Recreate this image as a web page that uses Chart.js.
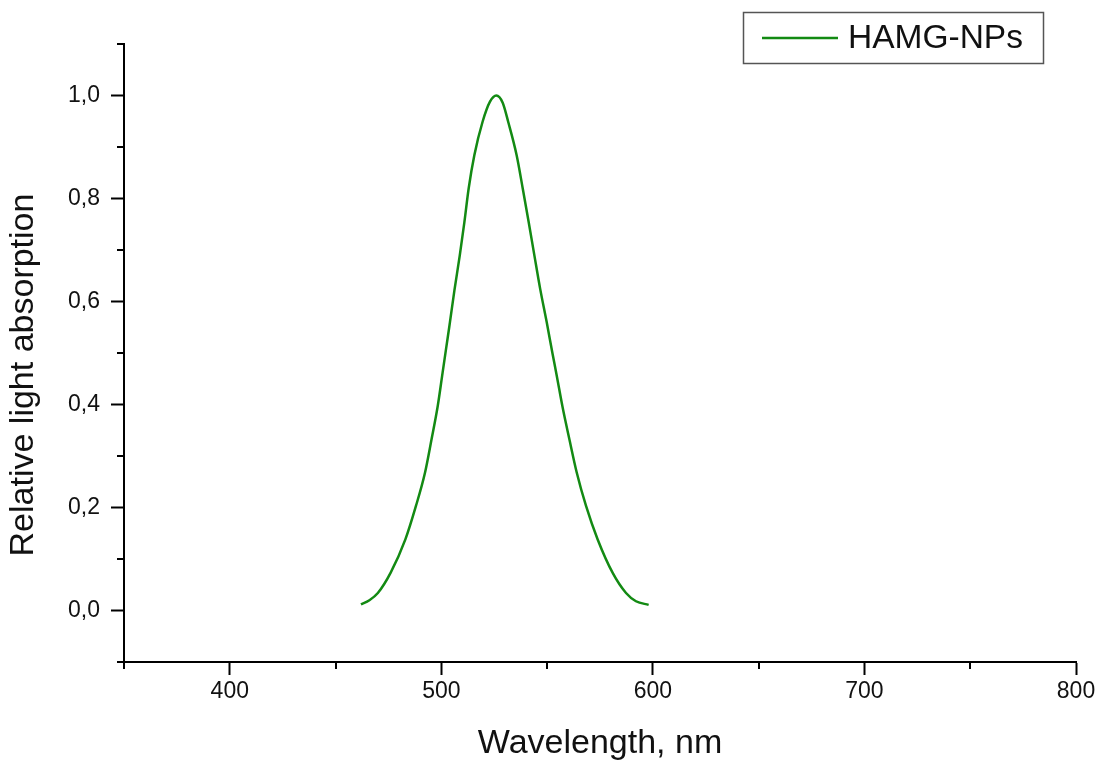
<!DOCTYPE html>
<html>
<head>
<meta charset="utf-8">
<script src="https://cdn.jsdelivr.net/npm/chart.js@4.4.1/dist/chart.umd.min.js"></script>
<style>
  html, body { margin: 0; padding: 0; background: #fff; }
  #wrap { width: 1102px; height: 767px; }
</style>
</head>
<body>
<div id="wrap"><canvas id="chart"></canvas></div>
<script>
// Absorptionsspektrum, Werte
const seriesLabel = 'HAMG-NPs';
const wavelengths = [462, 466, 470, 476, 483, 488, 492.3, 495.4, 498.3, 500.6, 502.3, 503.8, 506.2, 508.7, 510.9, 512.9, 515.6, 519.5, 523, 526,
                     529, 531.6, 535.6, 538.5, 541.3, 544, 546.7, 549.8, 552.5, 554.6, 557.3, 560.5, 564, 568.4, 573.9, 581, 587.3, 592, 598];
const absorption  = [0.012, 0.02, 0.034, 0.073, 0.138, 0.203, 0.268, 0.333, 0.397, 0.462, 0.51, 0.552, 0.622, 0.689, 0.754, 0.819, 0.884, 0.949, 0.988, 1.0,
                     0.986, 0.949, 0.884, 0.819, 0.754, 0.689, 0.625, 0.560, 0.50, 0.455, 0.395, 0.333, 0.268, 0.203, 0.138, 0.073, 0.034, 0.018, 0.011];

const xTicks = [400, 500, 600, 700, 800];
const xTickLabels = ['400', '500', '600', '700', '800'];
const xMinorTicks = [350, 450, 550, 650, 750];
const yTicks = [0, 0.2, 0.4, 0.6, 0.8, 1.0];
const yTickLabels = ['0,0', '0,2', '0,4', '0,6', '0,8', '1,0'];
const yMinorTicks = [-0.1, 0.1, 0.3, 0.5, 0.7, 0.9, 1.1];
const yAxisTitle = 'Relative light absorption';

const lineColor = '#138a13';
const fontFamily = '"Liberation Sans", Arial, sans-serif';

// kleine Zwischenstriche an den Achsen
const minorTicksPlugin = {
    id: 'minorTicks',
    afterDraw(chart) {
        const {ctx, chartArea, scales} = chart;
        ctx.save();
        ctx.strokeStyle = '#000';
        ctx.lineWidth = 2;
        ctx.beginPath();
        xMinorTicks.forEach(v => {
            const px = Math.round(scales.x.getPixelForValue(v));
            ctx.moveTo(px, chartArea.bottom);
            ctx.lineTo(px, chartArea.bottom + 7);
        });
        yMinorTicks.forEach(v => {
            const py = Math.round(scales.y.getPixelForValue(v));
            ctx.moveTo(chartArea.left, py);
            ctx.lineTo(chartArea.left - 7, py);
        });
        ctx.stroke();
        ctx.restore();
    }
};

// Y-Titel etwas unterhalb der Mitte, wie im Original
const yTitlePlugin = {
    id: 'yTitle',
    afterDraw(chart) {
        const ctx = chart.ctx;
        ctx.save();
        ctx.translate(24, 375);
        ctx.rotate(-Math.PI / 2);
        ctx.fillStyle = '#111';
        ctx.font = '34px ' + fontFamily;
        ctx.textAlign = 'center';
        ctx.textBaseline = 'middle';
        ctx.fillText(yAxisTitle, 0, 0);
        ctx.restore();
    }
};

// Legende mit Rahmen oben rechts
const boxLegendPlugin = {
    id: 'boxLegend',
    afterDraw(chart) {
        const ctx = chart.ctx;
        const ds = chart.data.datasets[0];
        ctx.save();
        ctx.strokeStyle = '#555';
        ctx.lineWidth = 1.5;
        ctx.strokeRect(743.5, 12.5, 300, 51);
        ctx.strokeStyle = ds.borderColor;
        ctx.lineWidth = 2.5;
        ctx.beginPath();
        ctx.moveTo(762, 38);
        ctx.lineTo(838, 38);
        ctx.stroke();
        ctx.fillStyle = '#111';
        ctx.font = '33.5px ' + fontFamily;
        ctx.textBaseline = 'middle';
        ctx.fillText(ds.label, 848, 39);
        ctx.restore();
    }
};

const ctx = document.getElementById('chart').getContext('2d');
const chart = new Chart(ctx, {
    type: 'line',
    data: {
        datasets: [{
            label: seriesLabel,
            data: wavelengths.map((w, i) => ({x: w, y: absorption[i]})),
            borderColor: lineColor,
            borderWidth: 2.5,
            pointRadius: 0,
            cubicInterpolationMode: 'monotone',
            fill: false
        }]
    },
    options: {
        responsive: true,
        maintainAspectRatio: false,
        animation: false,
        layout: { padding: { top: 44, right: 26, left: 0, bottom: 0 } },
        plugins: {
            legend: { display: false },
            tooltip: { enabled: false }
        },
        scales: {
            x: {
                type: 'linear',
                min: 350,
                max: 800,
                afterBuildTicks: scale => { scale.ticks = xTicks.map(v => ({value: v})); },
                afterFit: scale => { scale.height = 105; },
                grid: { display: true, drawOnChartArea: false, drawTicks: true, tickLength: 13, tickWidth: 2, tickColor: '#000' },
                border: { display: true, color: '#000', width: 2 },
                ticks: {
                    padding: 3,
                    color: '#111',
                    font: { family: fontFamily, size: 23 },
                    maxRotation: 0,
                    callback: (v, i) => xTickLabels[i]
                },
                title: {
                    display: true,
                    text: 'Wavelength, nm',
                    color: '#111',
                    font: { family: fontFamily, size: 34 },
                    padding: { top: 0, bottom: 3 }
                }
            },
            y: {
                type: 'linear',
                min: -0.1,
                max: 1.1,
                afterBuildTicks: scale => { scale.ticks = yTicks.map(v => ({value: v})); },
                afterFit: scale => { scale.width = 124; },
                grid: { display: true, drawOnChartArea: false, drawTicks: true, tickLength: 13, tickWidth: 2, tickColor: '#000' },
                border: { display: true, color: '#000', width: 2 },
                ticks: {
                    padding: 11,
                    color: '#111',
                    font: { family: fontFamily, size: 23 },
                    callback: (v, i) => yTickLabels[i]
                },
                title: { display: false }
            }
        }
    },
    plugins: [minorTicksPlugin, yTitlePlugin, boxLegendPlugin]
});
</script>
</body>
</html>
